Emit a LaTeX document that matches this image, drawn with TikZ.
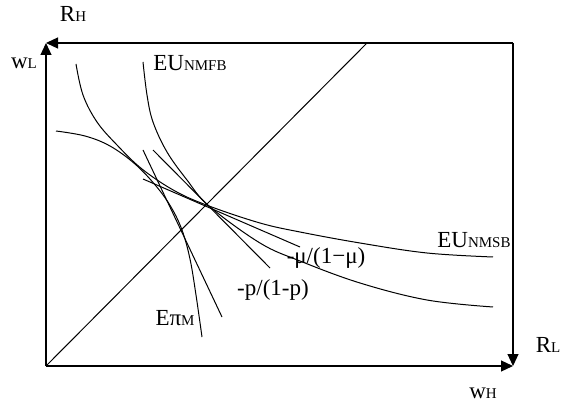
\documentclass[tikz,border=0pt]{standalone}
\usepackage{fontspec}
\setmainfont{Liberation Serif}
\usetikzlibrary{arrows.meta}
\newcommand{\sm}[1]{{\fontsize{7.5}{9}\selectfont #1}}

\begin{document}
\begin{tikzpicture}[
    x=0.5pt, y=-0.5pt,
    axis/.style={-{Triangle[length=6pt,width=5.5pt]}, line width=0.6pt},
    curve/.style={line width=0.5pt},
    lbl/.style={inner sep=0pt, font=\fontsize{11.5}{13}\selectfont}
    ]
    \useasboundingbox (0,0) rectangle (562,411);

    \coordinate (O) at (46,366);
    \coordinate (TL) at (46,43);
    \coordinate (TR) at (513,43);
    \coordinate (BR) at (513,366);
    \coordinate (D) at (367,43);

    \node[lbl] (RH) at (73,14) {R\sm{H}};
    \node[lbl] (wL) at (24,63) {w\sm{L}};
    \node[lbl] (RL) at (548,345) {R\sm{L}};
    \node[lbl] (wH) at (483,393) {w\sm{H}};
    \node[lbl, anchor=west] (FB) at (153,63) {EU\sm{NMFB}};
    \node[lbl, anchor=west] (SB) at (437,240) {EU\sm{NMSB}};
    \node[lbl] (mu) at (326,258) {-μ/(1−μ)};
    \node[lbl] (p) at (273,290) {-p/(1-p)};
    \node[lbl] (Epi) at (175,318) {Eπ\sm{M}};

    % box
    \draw[axis] (O) -- (TL);
    \draw[axis] (TR) -- (TL);
    \draw[axis] (O) -- (BR);
    \draw[axis] (TR) -- (BR);
    \draw[curve] (O) -- (D);

    % curves
    \draw[curve] plot[smooth, tension=0.6] coordinates {(56,131) (85,136) (110,146) (135,164) (156,186) (171,207) (182,230) (190,259) (196,295) (202,337)};
    \draw[curve] plot[smooth, tension=0.6] coordinates {(76,64) (83,95) (97,122) (117,145) (142,169) (175,191) (209,206) (260,223) (300,232) (360,243) (427,253) (493,257)};
    \draw[curve] plot[smooth, tension=0.6] coordinates {(143,62) (147,95) (153,122) (167,152) (187,180) (209,206) (260,243) (300,261) (360,283) (427,300) (493,307)};

    % tangents
    \draw[curve] (143,150) -- (222,317);
    \draw[curve] (153,150) -- (270,268);
    \draw[curve] (143,179) -- (300,247);
\end{tikzpicture}
\end{document}
